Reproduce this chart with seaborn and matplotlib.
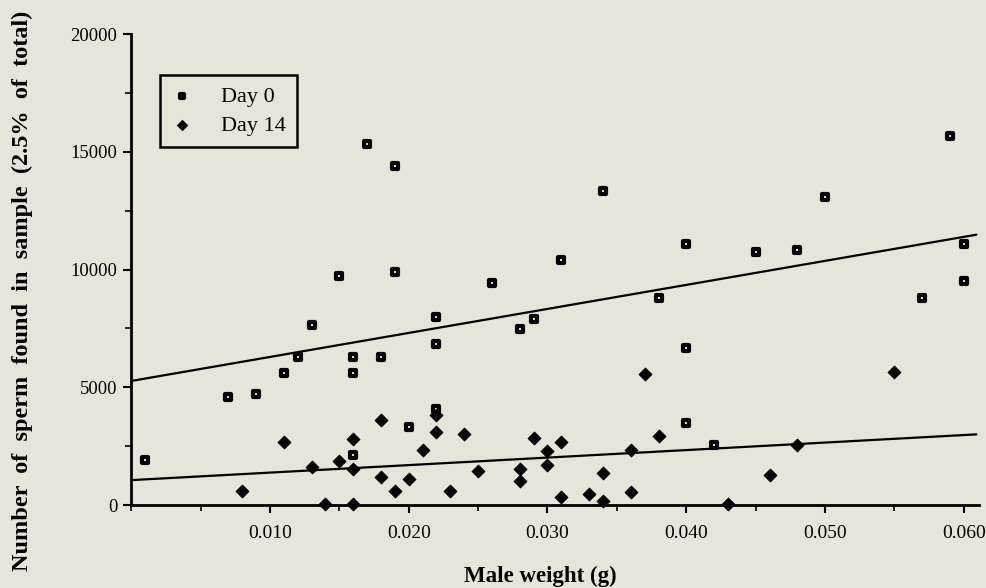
import numpy as np
import pandas as pd
import matplotlib
matplotlib.use("Agg")
import matplotlib.pyplot as plt
import seaborn as sns
from matplotlib.ticker import MultipleLocator, FormatStrFormatter

# Day 0 samples: male weight (g) and sperm count
day0_weight = [0.001, 0.007, 0.009, 0.011, 0.012, 0.013, 0.015, 0.016, 0.016, 0.016,
               0.017, 0.018, 0.019, 0.019, 0.020, 0.022, 0.022, 0.022, 0.026, 0.028,
               0.029, 0.031, 0.034, 0.038, 0.040, 0.040, 0.040, 0.042, 0.045, 0.048,
               0.050, 0.057, 0.059, 0.060, 0.060]
day0_count = [1900, 4600, 4700, 5630, 6300, 7640, 9720, 6300, 5630, 2120,
              15320, 6300, 14410, 9910, 3300, 8000, 6820, 4060, 9410, 7490,
              7900, 10400, 13330, 8800, 11070, 6670, 3470, 2550, 10760, 10830,
              13090, 8800, 15680, 11070, 9510]

# Day 14 samples
day14_weight = [0.008, 0.011, 0.013, 0.014, 0.015, 0.016, 0.016, 0.016, 0.018, 0.018,
                0.019, 0.020, 0.021, 0.022, 0.022, 0.023, 0.024, 0.025, 0.028, 0.028,
                0.029, 0.030, 0.030, 0.031, 0.031, 0.033, 0.034, 0.034, 0.036, 0.036,
                0.037, 0.038, 0.043, 0.046, 0.048, 0.055]
day14_count = [590, 2690, 1600, 40, 1870, 2790, 1530, 40, 3610, 1190,
               610, 1100, 2340, 3110, 3820, 610, 3030, 1430, 1530, 1020,
               2860, 2280, 1700, 2700, 340, 450, 1360, 170, 2360, 540,
               5580, 2940, 40, 1290, 2550, 5650]

# fitted lines as printed (intercept, slope)
fit_day0 = [5270, 102000]
fit_day14 = [1060, 31900]
fit_x = [0.0, 0.0609]

bg = "#e7e5d9"
sns.set_theme(style="ticks")
plt.rcParams["font.family"] = ["Liberation Serif", "DejaVu Serif"]
plt.rcParams["figure.facecolor"] = bg
plt.rcParams["axes.facecolor"] = bg
plt.rcParams["text.color"] = "black"
plt.rcParams["axes.labelcolor"] = "black"

df0 = pd.DataFrame({"weight": day0_weight, "count": day0_count})
df14 = pd.DataFrame({"weight": day14_weight, "count": day14_count})

fig = plt.figure(figsize=(9.86, 5.88), dpi=100)
ax = fig.add_axes([0.133, 0.141, 0.860, 0.801])

sns.scatterplot(data=df0, x="weight", y="count", marker="s", s=20,
                facecolor="white", edgecolor="black", linewidth=3,
                label="Day 0", ax=ax, zorder=3, clip_on=False)
sns.scatterplot(data=df14, x="weight", y="count", marker="D", s=45,
                color="black", edgecolor="black", linewidth=0.5,
                label="Day 14", ax=ax, zorder=3, clip_on=False)

fx = np.array(fit_x)
sns.lineplot(x=fx, y=np.polyval(fit_day0[::-1], fx), color="black", lw=1.6, ax=ax)
sns.lineplot(x=fx, y=np.polyval(fit_day14[::-1], fx), color="black", lw=1.6, ax=ax)

ax.set_xlim(0, 0.0611)
ax.set_ylim(0, 20000)
ax.xaxis.set_minor_locator(MultipleLocator(0.005))
ax.xaxis.set_major_formatter(FormatStrFormatter("%.3f"))
ax.yaxis.set_major_locator(MultipleLocator(5000))
ax.yaxis.set_minor_locator(MultipleLocator(2500))
ax.set_xticks([0.010, 0.020, 0.030, 0.040, 0.050, 0.060])

sns.despine(ax=ax)
for sp in ["left", "bottom"]:
    ax.spines[sp].set_linewidth(2)
    ax.spines[sp].set_color("black")
ax.tick_params(axis="both", which="major", direction="out", length=6, width=1.5,
               colors="black", pad=8)
ax.tick_params(axis="both", which="minor", direction="out", length=4, width=1.2,
               colors="black")
ax.tick_params(axis="x", which="major", labelsize=14)
ax.tick_params(axis="y", which="major", labelsize=13.4, pad=4)

ax.set_xlabel("")
ax.set_ylabel("")
fig.text(540 / 986, 1 - 576 / 588, "Male weight (g)", fontsize=16.5,
         fontweight="bold", ha="center", va="center")
fig.text(22 / 986, 1 - 291 / 588,
         "Number  of  sperm  found  in  sample  (2.5%  of  total)",
         fontsize=17.5, fontweight="bold", ha="center", va="center", rotation=90)

leg = ax.legend(loc="upper left", bbox_to_anchor=(0.034, 0.913), fontsize=16,
                frameon=True, fancybox=False, borderaxespad=0, borderpad=0.5,
                handlelength=1.0, handletextpad=1.25, labelspacing=0.4,
                markerscale=0.8)
leg.get_frame().set_edgecolor("black")
leg.get_frame().set_linewidth(1.8)
leg.get_frame().set_facecolor(bg)
leg.get_frame().set_alpha(1)

fig.savefig("out.png", dpi=100, facecolor=bg)
